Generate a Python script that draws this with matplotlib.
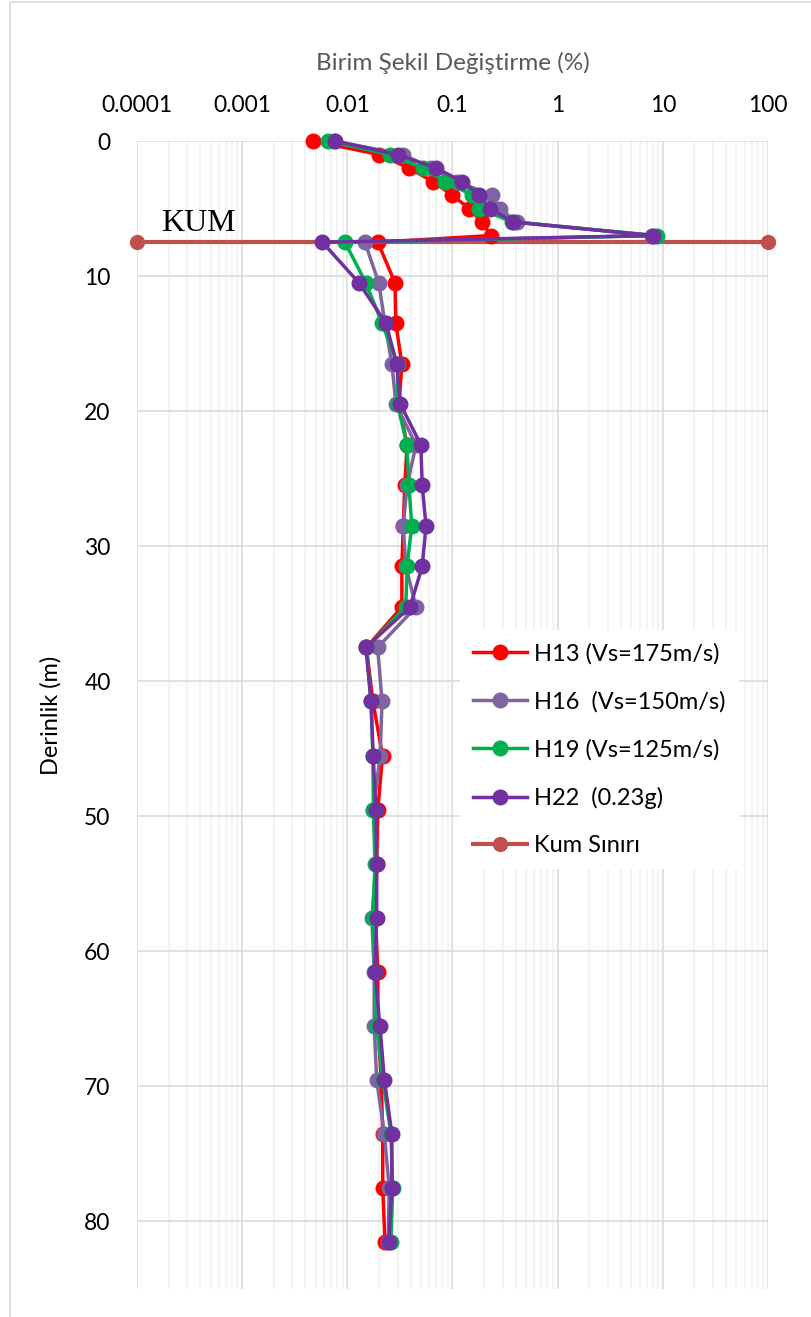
import matplotlib
matplotlib.use("Agg")
import matplotlib.pyplot as plt
from matplotlib.patches import Rectangle
from matplotlib.ticker import LogLocator, FixedLocator, FuncFormatter, NullFormatter

plt.rcParams['font.family'] = ['Lato', 'DejaVu Sans']

# Depth of each output layer (m)
depth = [0, 1, 2, 3, 4, 5, 6, 7, 7.5, 10.5, 13.5, 16.5, 19.5, 22.5, 25.5,
         28.5, 31.5, 34.5, 37.5, 41.5, 45.5, 49.5, 53.5, 57.5, 61.5, 65.5,
         69.5, 73.5, 77.5, 81.5]

# Maximum strain (%) per record
h13 = [0.0047, 0.020, 0.0385, 0.065, 0.099, 0.144, 0.19, 0.232, 0.0195, 0.0284,
       0.0289, 0.033, 0.031, 0.037, 0.0352, 0.034, 0.033, 0.033, 0.0152, 0.0175,
       0.0216, 0.0195, 0.019, 0.0185, 0.0195, 0.0195, 0.021, 0.0217, 0.0217, 0.0228]
h16 = [0.0075, 0.034, 0.062, 0.11, 0.237, 0.28, 0.41, 7.9, 0.0147, 0.0199,
       0.0228, 0.0265, 0.029, 0.045, 0.037, 0.034, 0.036, 0.045, 0.0194, 0.0214,
       0.0205, 0.0177, 0.0188, 0.0171, 0.018, 0.018, 0.019, 0.0225, 0.025, 0.0245]
h19 = [0.0065, 0.0254, 0.052, 0.085, 0.153, 0.18, 0.37, 8.8, 0.0095, 0.0150,
       0.0214, 0.030, 0.030, 0.0369, 0.0385, 0.041, 0.0369, 0.036, 0.0152, 0.0168,
       0.0175, 0.0177, 0.0183, 0.0175, 0.0183, 0.019, 0.0217, 0.026, 0.027, 0.026]
h22 = [0.0076, 0.030, 0.070, 0.123, 0.18, 0.227, 0.38, 8.05, 0.0058, 0.0129,
       0.0233, 0.0295, 0.032, 0.050, 0.0515, 0.056, 0.0515, 0.0395, 0.0150, 0.0168,
       0.0176, 0.0187, 0.019, 0.019, 0.0183, 0.0204, 0.0225, 0.0265, 0.0265, 0.0248]

# Sand layer boundary
kum_x = [0.0001, 100]
kum_y = [7.5, 7.5]

series = [
    (h13, "H13 (Vs=175m/s)", "#FF0000"),
    (h16, "H16  (Vs=150m/s)", "#8064A2"),
    (h19, "H19 (Vs=125m/s)", "#00B050"),
    (h22, "H22  (0.23g)", "#7030A0"),
]

W, H = 812, 1317
fig = plt.figure(figsize=(W / 100, H / 100), dpi=100)
ax = fig.add_axes([137 / W, 1 - 1289 / H, 631 / W, 1148 / H])

# chart area border
fig.add_artist(Rectangle((10 / W, -0.1), 2, 1.1 - 2 / H, transform=fig.transFigure,
                         fill=False, edgecolor="#D9D9D9", linewidth=1.2))

handles = []
kum_line, = ax.plot(kum_x, kum_y, color="#C0504D", linewidth=3, marker="o",
                    markersize=10, clip_on=False, zorder=3, label="Kum Sınırı")
for vals, name, col in series:
    ln, = ax.plot(vals, depth, color=col, linewidth=2.5, marker="o", markersize=10.5,
                  clip_on=False, zorder=4, label=name)
    handles.append(ln)
handles.append(kum_line)

ax.set_xscale("log")
ax.set_xlim(0.0001, 100)
ax.set_ylim(85, 0)

ax.xaxis.tick_top()
ax.xaxis.set_major_locator(FixedLocator([1e-4, 1e-3, 1e-2, 1e-1, 1, 10, 100]))
ax.xaxis.set_major_formatter(FuncFormatter(lambda v, p: f"{v:g}" if v >= 1e-3 else "0.0001"))
ax.xaxis.set_minor_locator(LogLocator(base=10, subs=range(2, 10), numticks=20))
ax.xaxis.set_minor_formatter(NullFormatter())
ax.set_yticks(range(0, 81, 10))

ax.tick_params(axis="both", which="both", length=0, labelsize=16.5, colors="black")
ax.tick_params(axis="x", pad=18)
ax.tick_params(axis="y", pad=19)

for s in ax.spines.values():
    s.set_visible(False)

ax.grid(True, axis="x", which="minor", color="#F0F0F0", linewidth=1.1, zorder=0)
ax.grid(True, axis="x", which="major", color="#D9D9D9", linewidth=1.1, zorder=0)
ax.grid(True, axis="y", which="major", color="#D9D9D9", linewidth=1.1, zorder=0)
ax.set_axisbelow(True)

ax.set_xlabel("Birim Şekil Değiştirme (%)", fontsize=17.5, color="#595959")
ax.xaxis.set_label_position("top")
ax.xaxis.set_label_coords(0.5, (1289 - 70) / 1148)
ax.set_ylabel("Derinlik (m)", fontsize=17, color="black")
ax.yaxis.set_label_coords((62 - 137) / 631, 0.5)

ax.text(1.69e-4, 6.67, "KUM", family="Liberation Serif", fontsize=23,
        ha="left", va="baseline", color="black")

leg = ax.legend(handles=handles, loc="upper left",
                bbox_to_anchor=(460 / W, 1 - 630 / H), bbox_transform=fig.transFigure,
                fontsize=17, frameon=True, facecolor="white", edgecolor="none",
                framealpha=1, fancybox=False, handlelength=2.3, handletextpad=0.3,
                labelspacing=1.12, borderpad=0.55, borderaxespad=0, numpoints=1)
leg.set_zorder(6)

fig.savefig("out.png", dpi=100, facecolor="white")
